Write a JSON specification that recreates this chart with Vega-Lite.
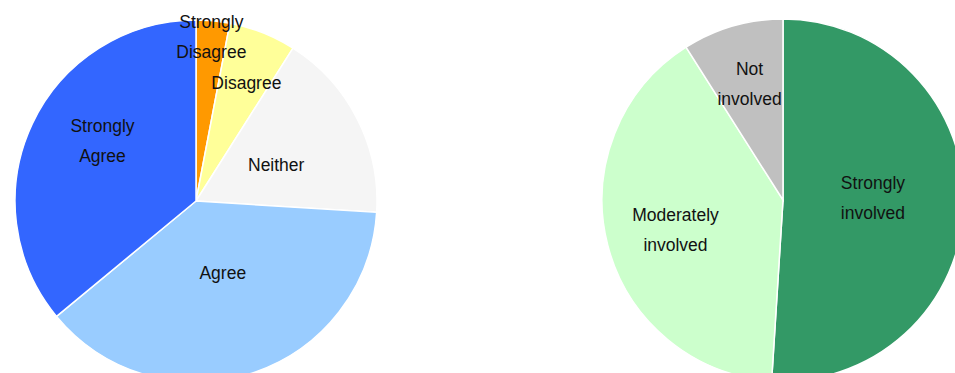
{
  "$schema": "https://vega.github.io/schema/vega-lite/v6.json",
  "width": 955,
  "height": 373,
  "padding": 0,
  "autosize": "none",
  "background": "white",
  "config": {"view": {"stroke": null}},
  "layer": [
    {
      "data": {"values": [
        {"cat": "Strongly Disagree", "label": "Strongly\nDisagree", "value": 3, "ord": 1},
        {"cat": "Disagree", "label": "Disagree", "value": 6, "ord": 2},
        {"cat": "Neither", "label": "Neither", "value": 17, "ord": 3},
        {"cat": "Agree", "label": "Agree", "value": 38, "ord": 4},
        {"cat": "Strongly Agree", "label": "Strongly\nAgree", "value": 36, "ord": 5}
      ]},
      "layer": [
        {
          "mark": {"type": "arc", "x": 196, "y": 201, "outerRadius": 181, "stroke": "white", "strokeWidth": 1.5},
          "encoding": {
            "theta": {"field": "value", "type": "quantitative", "stack": true},
            "order": {"field": "ord", "type": "quantitative"},
            "color": {"field": "cat", "type": "nominal", "legend": null,
              "scale": {"domain": ["Strongly Disagree", "Disagree", "Neither", "Agree", "Strongly Agree", "Strongly involved", "Moderately involved", "Not involved"],
                        "range": ["#FF9900", "#FFFF99", "#F5F5F5", "#99CCFF", "#3366FF", "#339966", "#CCFFCC", "#C0C0C0"]}}
          }
        },
        {
          "mark": {"type": "text", "x": 196, "y": 201, "font": "Liberation Sans", "fontSize": 17.5, "lineHeight": 30, "lineBreak": "\n", "color": "#111111", "align": "center", "baseline": "middle",
            "radius": {"expr": "datum.cat === 'Strongly Disagree' ? 163 : datum.cat === 'Disagree' ? 126 : datum.cat === 'Neither' ? 90 : datum.cat === 'Agree' ? 77 : 110"},
            "dx": {"expr": "datum.cat === 'Strongly Agree' ? 6 : datum.cat === 'Disagree' ? 4 : datum.cat === 'Agree' ? 3 : 0"},
            "dy": {"expr": "datum.cat === 'Strongly Agree' ? -27 : datum.cat === 'Strongly Disagree' ? -16 : datum.cat === 'Neither' ? 6 : 0"}},
          "encoding": {
            "theta": {"field": "value", "type": "quantitative", "stack": true},
            "order": {"field": "ord", "type": "quantitative"},
            "text": {"field": "label"}
          }
        }
      ]
    },
    {
      "data": {"values": [
        {"cat": "Strongly involved", "label": "Strongly\ninvolved", "value": 51, "ord": 1},
        {"cat": "Moderately involved", "label": "Moderately\ninvolved", "value": 40, "ord": 2},
        {"cat": "Not involved", "label": "Not\ninvolved", "value": 9, "ord": 3}
      ]},
      "layer": [
        {
          "mark": {"type": "arc", "x": 783, "y": 200, "outerRadius": 181, "stroke": "white", "strokeWidth": 1.5},
          "encoding": {
            "theta": {"field": "value", "type": "quantitative", "stack": true},
            "order": {"field": "ord", "type": "quantitative"},
            "color": {"field": "cat", "type": "nominal", "legend": null}
          }
        },
        {
          "mark": {"type": "text", "x": 783, "y": 200, "font": "Liberation Sans", "fontSize": 17.5, "lineHeight": 30, "lineBreak": "\n", "color": "#111111", "align": "center", "baseline": "middle",
            "radius": {"expr": "datum.cat === 'Strongly involved' ? 90 : datum.cat === 'Moderately involved' ? 111 : 120"},
            "dy": {"expr": "datum.cat === 'Strongly involved' ? -19 : datum.cat === 'Moderately involved' ? -12 : -15"}},
          "encoding": {
            "theta": {"field": "value", "type": "quantitative", "stack": true},
            "order": {"field": "ord", "type": "quantitative"},
            "text": {"field": "label"}
          }
        }
      ]
    }
  ]
}
